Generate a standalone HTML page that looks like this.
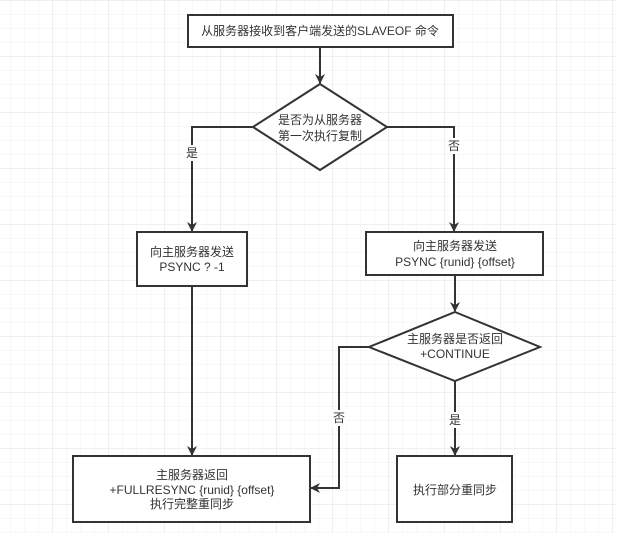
<!DOCTYPE html>
<html><head><meta charset="utf-8"><style>
html,body{margin:0;padding:0;background:#fff;}
svg{display:block;}
text{font-family:"Liberation Sans","Noto Sans CJK SC",sans-serif;font-size:12px;fill:#333;text-anchor:middle;}
</style></head><body>
<svg width="617" height="533" viewBox="0 0 617 533" xmlns="http://www.w3.org/2000/svg">
<defs>
<pattern id="g" width="14" height="14" patternUnits="userSpaceOnUse" x="-3" y="1">
<path d="M14 0V14M0 14H14" stroke="#f0f0f0" stroke-width="1" fill="none"/>
</pattern>
<pattern id="G" width="56" height="56" patternUnits="userSpaceOnUse" x="-3" y="1">
<path d="M56 0V56M0 56H56" stroke="#e2e2e2" stroke-width="1" fill="none"/>
</pattern>
<marker id="a" markerWidth="10" markerHeight="10" refX="9" refY="5" orient="auto" markerUnits="userSpaceOnUse">
<path d="M0,0 L10,5 L0,10 L3,5 Z" fill="#333"/>
</marker>
</defs>
<rect width="617" height="533" fill="url(#g)"/>
<rect width="617" height="533" fill="url(#G)"/>
<g stroke="#333" stroke-width="2" fill="none">
<line x1="320" y1="47" x2="320" y2="83" marker-end="url(#a)"/>
<polyline points="253,127 192,127 192,231" marker-end="url(#a)"/>
<polyline points="387,127 454,127 454,231" marker-end="url(#a)"/>
<line x1="192" y1="286" x2="192" y2="455" marker-end="url(#a)"/>
<line x1="455" y1="275" x2="455" y2="311" marker-end="url(#a)"/>
<line x1="455" y1="381" x2="455" y2="455" marker-end="url(#a)"/>
<polyline points="369,347 339,347 339,488 311,488" marker-end="url(#a)"/>
</g>
<g stroke="#333" stroke-width="2" fill="#fff">
<rect x="188" y="15" width="265" height="32"/>
<polygon points="320,84 387,127 320,170 253,127"/>
<rect x="137" y="232" width="110" height="54"/>
<rect x="366" y="232" width="177" height="43"/>
<polygon points="455,312 540,347 455,381 369,347"/>
<rect x="73" y="456" width="237" height="66"/>
<rect x="397" y="456" width="115" height="66"/>
</g>
<rect x="184" y="145" width="16" height="16" fill="#fff"/>
<rect x="446" y="138" width="16" height="16" fill="#fff"/>
<rect x="331" y="410" width="16" height="16" fill="#fff"/>
<rect x="447" y="412" width="16" height="16" fill="#fff"/>
<text x="320" y="35">从服务器接收到客户端发送的SLAVEOF 命令</text>
<text x="320" y="124">是否为从服务器</text>
<text x="320" y="140">第一次执行复制</text>
<text x="192" y="157">是</text>
<text x="454" y="150">否</text>
<text x="192" y="256">向主服务器发送</text>
<text x="192" y="271">PSYNC ? -1</text>
<text x="455" y="250">向主服务器发送</text>
<text x="455" y="266">PSYNC {runid} {offset}</text>
<text x="455" y="343">主服务器是否返回</text>
<text x="455" y="358">+CONTINUE</text>
<text x="339" y="422">否</text>
<text x="455" y="424">是</text>
<text x="192" y="479">主服务器返回</text>
<text x="192" y="494">+FULLRESYNC {runid} {offset}</text>
<text x="192" y="508">执行完整重同步</text>
<text x="455" y="494">执行部分重同步</text>
</svg>
</body></html>
